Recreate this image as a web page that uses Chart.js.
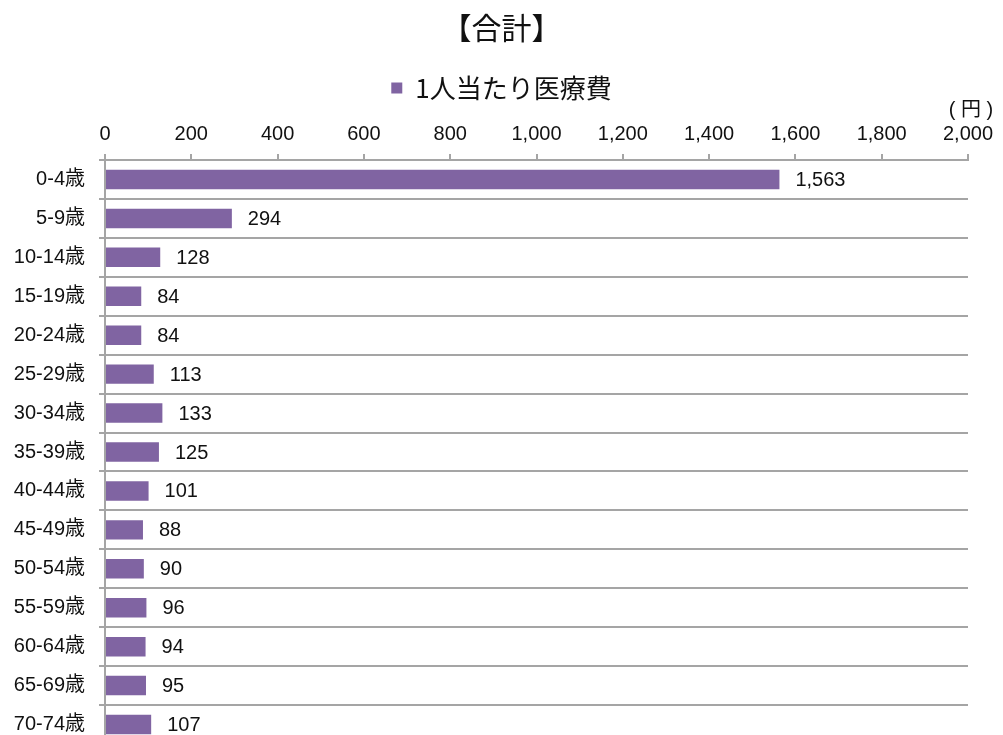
<!DOCTYPE html>
<html lang="ja">
<head>
<meta charset="utf-8">
<title>1人当たり医療費</title>
<script src="https://cdn.jsdelivr.net/npm/chart.js@4.4.1/dist/chart.umd.min.js"></script>
<style>
  html, body { margin: 0; padding: 0; background: #fff; overflow: hidden; }
  #costChart { display: block; }
</style>
</head>
<body>
<canvas id="costChart" width="1003" height="760"></canvas>
<script>
// age groups and per-person medical cost (yen)
const ageGroups = ['0-4歳', '5-9歳', '10-14歳', '15-19歳', '20-24歳', '25-29歳', '30-34歳', '35-39歳',
                   '40-44歳', '45-49歳', '50-54歳', '55-59歳', '60-64歳', '65-69歳', '70-74歳'];
const costPerPerson = [1563, 294, 128, 84, 84, 113, 133, 125, 101, 88, 90, 96, 94, 95, 107];
const seriesName = '1人当たり医療費';
const chartTitle = '【合計】';
const unitLabel = '( 円 )';
const xMin = 0, xMax = 2000, xStep = 200;

const FONT = "'Liberation Sans', 'Noto Sans CJK JP', sans-serif";
const CJK = "'Noto Sans CJK JP', 'Liberation Sans', sans-serif";
const BAR = '#8064a2';
const LINE = '#a5a5a5';

// value labels to the right of each bar
const valueLabels = {
    id: 'valueLabels',
    afterDatasetsDraw(chart) {
        const ctx = chart.ctx;
        const meta = chart.getDatasetMeta(0);
        ctx.save();
        ctx.font = '20px ' + FONT;
        ctx.fillStyle = '#111';
        ctx.textAlign = 'left';
        ctx.textBaseline = 'middle';
        meta.data.forEach((bar, i) => {
            const v = chart.data.datasets[0].data[i];
            ctx.fillText(v.toLocaleString('en-US'), bar.x + 16, bar.y + 1);
        });
        ctx.restore();
    }
};

// unit text over the right end of the value axis
const unitText = {
    id: 'unitText',
    afterDraw(chart) {
        const ctx = chart.ctx;
        const right = chart.scales.x.right;
        ctx.save();
        ctx.font = '20px ' + FONT;
        ctx.fillStyle = '#111';
        ctx.textAlign = 'center';
        ctx.textBaseline = 'middle';
        ctx.fillText(unitLabel, right + 3, 110);
        ctx.restore();
    }
};

new Chart(document.getElementById('costChart').getContext('2d'), {
    type: 'bar',
    data: {
        labels: ageGroups,
        datasets: [{
            label: seriesName,
            data: costPerPerson,
            backgroundColor: BAR,
            borderWidth: 0,
            barPercentage: 0.5,
            categoryPercentage: 1.0
        }]
    },
    options: {
        indexAxis: 'y',
        responsive: false,
        animation: false,
        layout: { padding: { left: 0, right: 0, top: 0, bottom: 16 } },
        plugins: {
            title: {
                display: true,
                text: chartTitle,
                color: '#111',
                font: { family: CJK, size: 30, weight: 'normal' },
                padding: { top: 10, bottom: 19 }
            },
            legend: {
                display: true,
                position: 'top',
                labels: {
                    color: '#111',
                    font: { family: CJK, size: 26 },
                    boxWidth: 11,
                    boxHeight: 11,
                    padding: 10
                }
            },
            tooltip: { enabled: false }
        },
        scales: {
            x: {
                position: 'top',
                min: xMin,
                max: xMax,
                afterFit(scale) {
                    scale.height = 49;
                    scale.paddingLeft = 0;
                    scale.paddingRight = 35;
                },
                afterBuildTicks(scale) {
                    const t = [];
                    for (let v = xMin; v <= xMax; v += xStep) t.push({ value: v });
                    scale.ticks = t;
                },
                ticks: {
                    color: '#111',
                    font: { family: FONT, size: 20 },
                    padding: 8,
                    maxRotation: 0,
                    callback: v => v.toLocaleString('en-US')
                },
                grid: { drawOnChartArea: false, drawTicks: true, tickLength: 6, color: LINE, lineWidth: 2 },
                border: { display: true, color: LINE, width: 2 }
            },
            y: {
                afterFit(scale) {
                    scale.width = 105;
                    scale.paddingTop = 0;
                    scale.paddingBottom = 0;
                },
                ticks: {
                    color: '#111',
                    font: { family: FONT, size: 20 },
                    padding: 14
                },
                grid: { offset: true, drawOnChartArea: true, drawTicks: true, tickLength: 6, color: LINE, lineWidth: 2 },
                border: { display: true, color: LINE, width: 2 }
            }
        }
    },
    plugins: [valueLabels, unitText]
});
</script>
</body>
</html>
